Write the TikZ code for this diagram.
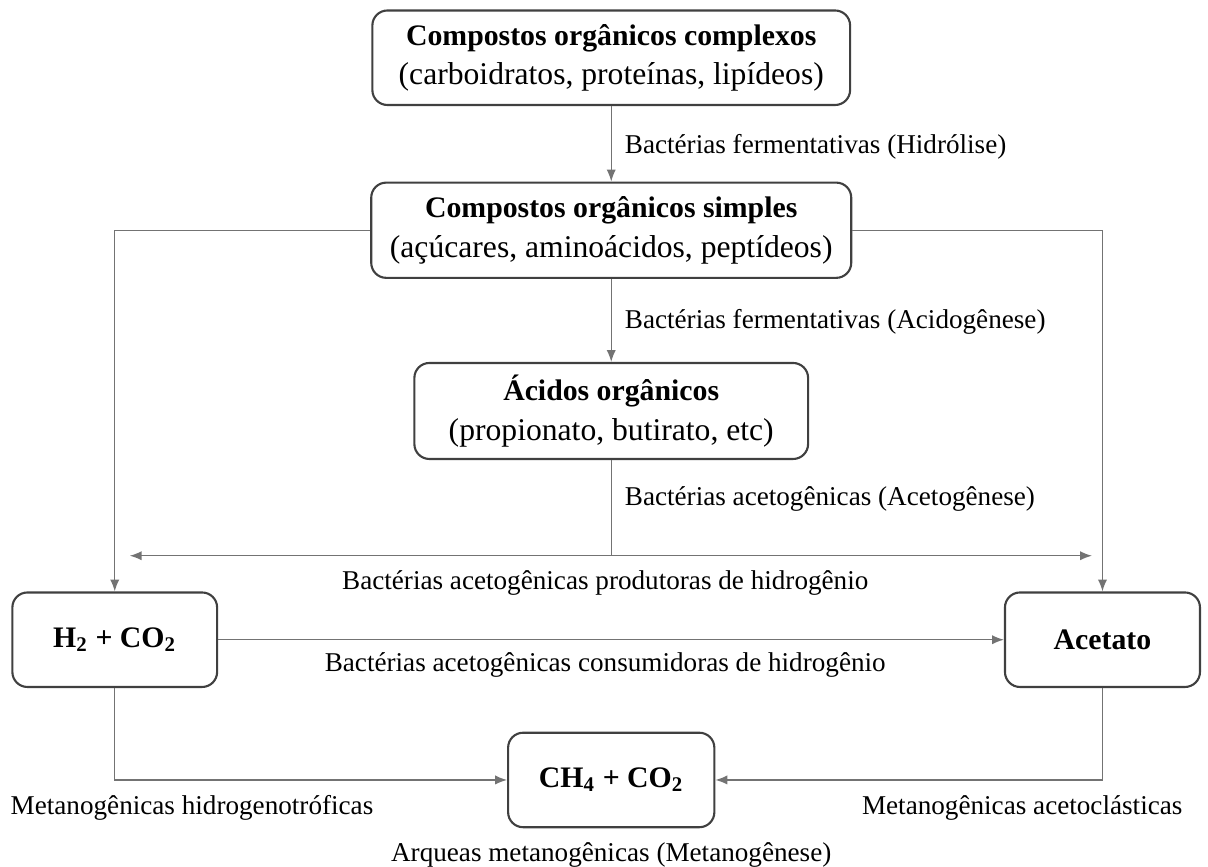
\documentclass[tikz,border=0pt]{standalone}
\usepackage{fontspec}
\setmainfont{Liberation Serif}
\usetikzlibrary{arrows.meta}
\tikzset{every node/.style={align=center}}
\newcommand{\ttl}[1]{{\fontsize{11.3}{14}\selectfont\textbf{#1}}}

\begin{document}
\begin{tikzpicture}[
    stage/.style={draw=black!75, line width=0.8pt, rounded corners=0.2cm, fill=white, font=\fontsize{12}{15}\selectfont},
    flow/.style={draw=black!55, line width=0.5pt},
    msg/.style={flow, -{Latex[length=4.5pt,width=3.5pt]}},
    lbl/.style={font=\fontsize{10.3}{12}\selectfont, inner sep=1pt}
]
  \useasboundingbox (0,0) rectangle (16.107,-11.56);

  \node (CX)   at (8.15,-0.77)  [stage, minimum width=6.37cm, minimum height=1.26cm] {\ttl{Compostos orgânicos complexos}\\(carboidratos, proteínas, lipídeos)};
  \node (SI)   at (8.15,-3.07)  [stage, minimum width=6.40cm, minimum height=1.27cm] {\ttl{Compostos orgânicos simples}\\(açúcares, aminoácidos, peptídeos)};
  \node (AC)   at (8.15,-5.48)  [stage, minimum width=5.25cm, minimum height=1.28cm] {\ttl{Ácidos orgânicos}\\(propionato, butirato, etc)};
  \node (H2)   at (1.53,-8.53)  [stage, minimum width=2.73cm, minimum height=1.26cm] {\ttl{H\textsubscript{2} + CO\textsubscript{2}}};
  \node (ACT)  at (14.70,-8.53) [stage, minimum width=2.60cm, minimum height=1.26cm] {\ttl{Acetato}};
  \node (CH4)  at (8.15,-10.40) [stage, minimum width=2.75cm, minimum height=1.26cm] {\ttl{CH\textsubscript{4} + CO\textsubscript{2}}};

  \coordinate (J)  at (8.15,-7.41);
  \coordinate (JL) at (1.73,-7.41);
  \coordinate (JR) at (14.56,-7.41);

  \draw[msg] (CX) -- (SI);
  \draw[msg] (SI) -- (AC);
  \draw[msg] (SI.west) -| (H2.north);
  \draw[msg] (SI.east) -| (ACT.north);
  \draw[flow] (AC.south) -- (J);
  \draw[flow, {Latex[length=4.5pt,width=3.5pt]}-{Latex[length=4.5pt,width=3.5pt]}] (JL) -- (JR);
  \draw[msg] (H2.east) -- (ACT.west);
  \draw[msg] (H2.south) |- (CH4.west);
  \draw[msg] (ACT.south) |- (CH4.east);

  \node (L1) at (8.29,-1.96)   [lbl, anchor=west] {Bactérias fermentativas (Hidrólise)};
  \node (L2) at (8.29,-4.29)   [lbl, anchor=west] {Bactérias fermentativas (Acidogênese)};
  \node (L3) at (8.29,-6.65)   [lbl, anchor=west] {Bactérias acetogênicas (Acetogênese)};
  \node (L4) at (8.07,-7.77)   [lbl] {Bactérias acetogênicas produtoras de hidrogênio};
  \node (L5) at (8.07,-8.87)   [lbl] {Bactérias acetogênicas consumidoras de hidrogênio};
  \node (L6) at (2.56,-10.77)  [lbl] {Metanogênicas hidrogenotróficas};
  \node (L7) at (13.63,-10.77) [lbl] {Metanogênicas acetoclásticas};
  \node (L8) at (8.15,-11.40)  [lbl] {Arqueas metanogênicas (Metanogênese)};
\end{tikzpicture}
\end{document}
